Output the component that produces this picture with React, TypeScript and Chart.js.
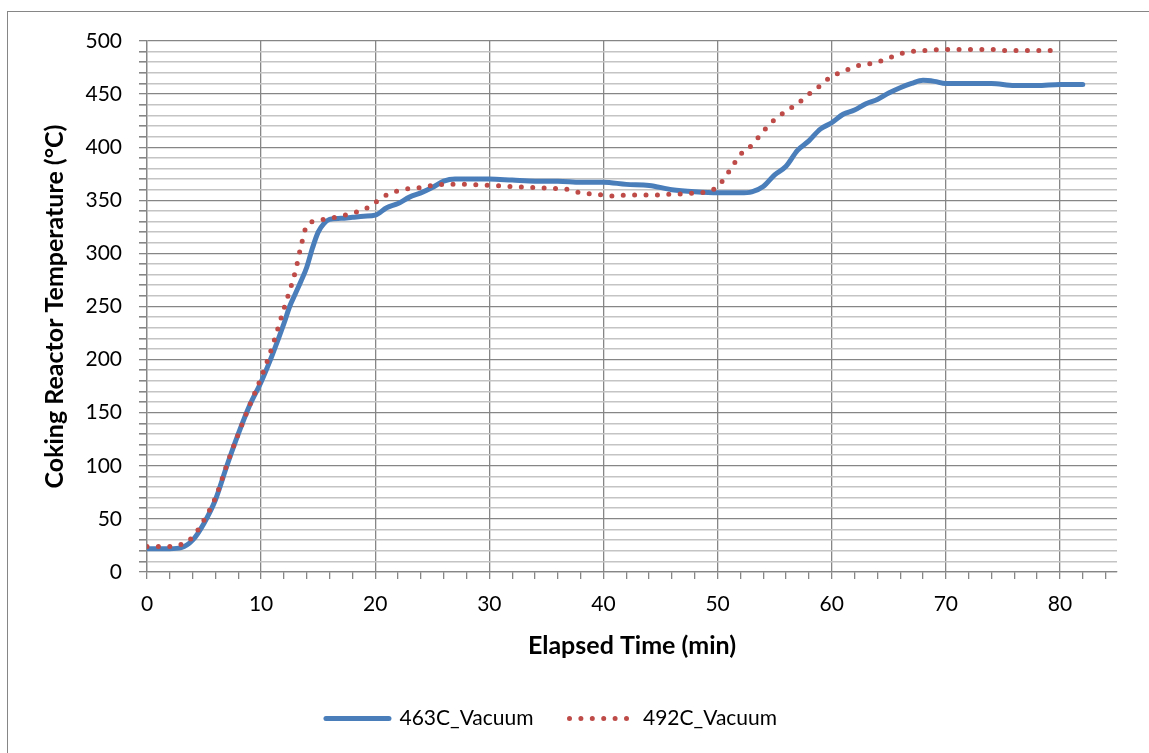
import React, { useEffect, useRef } from "react";
import { Chart, registerables } from "chart.js";

Chart.register(...registerables);

// Elapsed time (min) and coking reactor temperature (°C) for each run
const TIME_463 = [0, 1, 2, 3, 4, 5, 6, 7, 8, 9, 10, 11, 12, 12.5, 13, 13.5, 14, 14.5, 15, 15.5, 16, 17, 18, 19, 20, 21, 22, 23, 24, 25, 26, 27, 28, 30, 32, 34, 36, 38, 40, 42, 44, 46, 48, 50, 52, 53, 54, 55, 56, 57, 58, 59, 60, 61, 62, 63, 64, 65, 66, 67, 68, 69, 70, 72, 74, 76, 78, 80, 82];
const TEMP_463 = [22, 22, 22, 23, 30, 46, 68, 100, 130, 157, 179, 205, 234, 250, 262, 274, 287, 305, 320, 328, 332, 333, 334, 335, 336, 343, 347, 353, 357, 362, 368, 370, 370, 370, 369, 368, 368, 367, 367, 365, 364, 360, 358, 357, 357, 358, 363, 374, 382, 397, 406, 417, 423, 431, 435, 441, 445, 451, 456, 460, 463, 462, 460, 460, 460, 458, 458, 459, 459];

const TIME_492 = [0, 1, 2, 3, 4, 5, 6, 7, 8, 9, 10, 11, 12, 13, 13.5, 14, 15, 16, 17, 18, 19, 20, 21, 22, 23, 24, 25, 26, 28, 30, 32, 34, 36, 37, 38, 39, 40, 41, 42, 43, 44, 45, 46, 47, 48, 49, 50, 51, 52, 53, 54, 55, 56, 57, 58, 59, 60, 61, 62, 63, 64, 65, 66, 67, 68, 70, 74, 75, 80];
const TEMP_492 = [24, 24, 24, 26, 33, 49, 70, 101, 130, 157, 183, 213, 248, 283, 307, 326, 331, 333, 335, 338, 341, 348, 355, 359, 361, 362, 364, 365, 365, 364, 363, 362, 361, 360, 357, 356, 355, 354, 355, 355, 355, 355, 356, 356, 357, 358, 363, 377, 393, 402, 415, 426, 434, 441, 450, 458, 467, 471, 476, 478, 480, 484, 488, 490, 491, 492, 492, 491, 491];

const SERIES_LABELS = ["463C_Vacuum", "492C_Vacuum"];

// Axis ranges and tick steps
const X_MIN = 0;
const X_MAX = 85;
const X_MINOR_STEP = 2;
const X_LABEL_STEP = 10;
const Y_MIN = 0;
const Y_MAX = 500;
const Y_MINOR_STEP = 10;
const Y_LABEL_STEP = 50;

const X_TITLE = "Elapsed Time (min)";
const Y_TITLE = "Coking Reactor Temperature (°C)";

const FONT = "Lato, 'Open Sans', sans-serif";
const BLUE = "#4A7EBB";
const RED = "#BE4B48";
const AXIS_GRAY = "#868686";
const MINOR_GRAY = "#C4C4C4";

const toPoints = (xs: number[], ys: number[]) => xs.map((x, i) => ({ x, y: ys[i] }));

// Tick list from min up to max in fixed steps
const stepTicks = (min: number, max: number, step: number) => {
  const ticks: { value: number }[] = [];
  for (let v = min; v <= max + 1e-9; v += step) ticks.push({ value: v });
  return ticks;
};

// Moves the bottom legend a few pixels to the left of the canvas centre
const legendShift = {
  id: "legendShift",
  afterLayout(chart: any) {
    if (chart.legend) {
      chart.legend.left -= 7;
      chart.legend.right -= 7;
    }
  },
};

export default function App() {
  const canvasRef = useRef<HTMLCanvasElement | null>(null);

  useEffect(() => {
    if (!canvasRef.current) return;
    const chart = new Chart(canvasRef.current, {
      type: "line",
      data: {
        datasets: [
          {
            label: SERIES_LABELS[0],
            data: toPoints(TIME_463, TEMP_463),
            borderColor: BLUE,
            backgroundColor: BLUE,
            borderWidth: 5,
            borderCapStyle: "round",
            borderJoinStyle: "round",
            pointRadius: 0,
            cubicInterpolationMode: "monotone",
            fill: false,
            order: 1,
          },
          {
            label: SERIES_LABELS[1],
            data: toPoints(TIME_492, TEMP_492),
            borderColor: RED,
            backgroundColor: RED,
            borderWidth: 5,
            borderDash: [0, 11.4],
            borderCapStyle: "round",
            pointRadius: 0,
            cubicInterpolationMode: "monotone",
            fill: false,
            order: 0,
          },
        ],
      },
      plugins: [legendShift],
      options: {
        animation: false,
        responsive: false,
        maintainAspectRatio: false,
        layout: { padding: { top: 41, right: 32, bottom: 14, left: 0 } },
        plugins: {
          tooltip: { enabled: false },
          legend: {
            position: "bottom",
            labels: {
              usePointStyle: true,
              pointStyle: "line",
              pointStyleWidth: 63,
              padding: 36,
              color: "#000",
              font: { family: FONT, size: 21 },
              generateLabels: (c: any) =>
                c.data.datasets.map((ds: any, i: number) => ({
                  text: ds.label,
                  datasetIndex: i,
                  strokeStyle: ds.borderColor,
                  fillStyle: ds.borderColor,
                  lineWidth: ds.borderWidth,
                  lineDash: ds.borderDash || [],
                  lineCap: "round",
                  pointStyle: "line",
                  fontColor: "#000",
                  hidden: false,
                })),
            },
          },
        },
        scales: {
          x: {
            type: "linear",
            min: X_MIN,
            max: X_MAX,
            afterBuildTicks: (scale: any) => {
              scale.ticks = stepTicks(X_MIN, X_MAX - 1, X_MINOR_STEP);
            },
            afterFit: (scale: any) => {
              scale.height = 100;
            },
            grid: {
              color: (ctx: any) =>
                ctx.tick && ctx.tick.value % X_LABEL_STEP === 0 ? AXIS_GRAY : "rgba(0,0,0,0)",
              tickColor: AXIS_GRAY,
              tickLength: 7,
              lineWidth: 1.3,
            },
            border: { color: AXIS_GRAY, width: 1.3 },
            ticks: {
              autoSkip: false,
              maxRotation: 0,
              padding: 13,
              color: "#000",
              font: { family: FONT, size: 21 },
              callback: (v: any) => (Number(v) % X_LABEL_STEP === 0 ? String(v) : ""),
            },
            title: {
              display: true,
              text: X_TITLE,
              color: "#000",
              font: { family: FONT, size: 25, weight: "bold" },
              padding: { top: 0, bottom: 11 },
            },
          },
          y: {
            type: "linear",
            min: Y_MIN,
            max: Y_MAX,
            afterBuildTicks: (scale: any) => {
              scale.ticks = stepTicks(Y_MIN, Y_MAX, Y_MINOR_STEP);
            },
            afterFit: (scale: any) => {
              scale.width = 147;
            },
            grid: {
              color: (ctx: any) =>
                ctx.tick && ctx.tick.value % Y_LABEL_STEP === 0 ? AXIS_GRAY : MINOR_GRAY,
              lineWidth: (ctx: any) =>
                ctx.tick && ctx.tick.value % Y_LABEL_STEP === 0 ? 1.3 : 1.6,
              tickColor: AXIS_GRAY,
              tickLength: 8,
            },
            border: { color: AXIS_GRAY, width: 1.3 },
            ticks: {
              autoSkip: false,
              padding: 17,
              color: "#000",
              font: { family: FONT, size: 21 },
              callback: (v: any) => (Number(v) % Y_LABEL_STEP === 0 ? String(v) : ""),
            },
            title: {
              display: true,
              text: Y_TITLE,
              color: "#000",
              font: { family: FONT, size: 25, weight: "bold" },
              padding: { top: 40, bottom: 0 },
            },
          },
        },
      },
    } as any);
    return () => chart.destroy();
  }, []);

  return (
    <div style={{ position: "fixed", left: 0, top: 0, width: 1149, height: 753, background: "#fff", overflow: "hidden" }}>
      <div
        style={{
          position: "absolute",
          left: 7,
          top: 11,
          width: 1200,
          height: 800,
          borderLeft: `1px solid ${AXIS_GRAY}`,
          borderTop: `1px solid ${AXIS_GRAY}`,
        }}
      />
      <canvas ref={canvasRef} width={1149} height={753} style={{ position: "absolute", left: 0, top: 0 }} />
    </div>
  );
}
